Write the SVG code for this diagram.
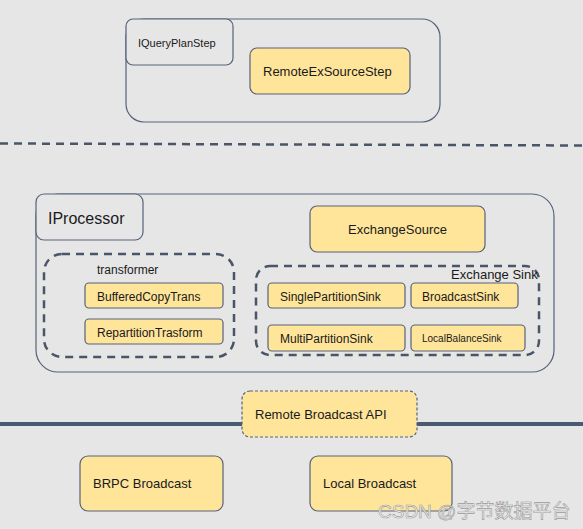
<svg xmlns="http://www.w3.org/2000/svg" width="583" height="529" viewBox="0 0 583 529">
<style>
.c{fill:none;stroke:#56627a;stroke-width:1.2}
.g{fill:#e6e6e6;stroke:#56627a;stroke-width:1.2}
.y{fill:#ffe599;stroke:#56627a;stroke-width:1.2}
.d{fill:none;stroke:#4a5568;stroke-width:2.5;stroke-dasharray:8 6}
.t{font-family:"Liberation Sans",Arial,sans-serif;fill:#1a1a1a}
.wm{font-family:"Liberation Sans","Noto Sans CJK SC",sans-serif;font-size:19px;fill:#f2f2f2;stroke:#9a9a9a;stroke-width:0.6}
</style>
<rect width="583" height="529" fill="#e6e6e6"/>
<g id="connectors">
<line x1="0" y1="143.5" x2="583" y2="145.5" class="d" stroke-dasharray="9 7"/>
<line x1="0" y1="424" x2="583" y2="424" stroke="#4a5a70" stroke-width="4"/>
</g>
<g id="queryplan">
<rect x="126" y="19" width="314" height="103" rx="18" class="c"/>
</g>
<g id="iqueryplanstep">
<rect x="126" y="19" width="107" height="46" rx="7" class="g"/>
<text x="138" y="47" class="t" font-size="11">IQueryPlanStep</text>
</g>
<g id="remoteexsourcestep">
<rect x="250" y="48" width="160" height="46" rx="7" class="y"/>
<text x="263" y="76" class="t" font-size="13">RemoteExSourceStep</text>
</g>
<g id="processor">
<rect x="36" y="194" width="518" height="178" rx="22" class="c"/>
</g>
<g id="iprocessor">
<rect x="36" y="194" width="107" height="46" rx="8" class="g"/>
<text x="48" y="224" class="t" font-size="16">IProcessor</text>
</g>
<g id="exchangesource">
<rect x="310" y="206" width="175" height="46" rx="7" class="y"/>
<text x="397.5" y="234" class="t" font-size="13" text-anchor="middle">ExchangeSource</text>
</g>
<g id="transformer">
<rect x="44" y="254" width="190" height="103" rx="18" class="d"/>
<text x="97" y="274" class="t" font-size="12">transformer</text>
</g>
<g id="bufferedcopytrans">
<rect x="85" y="283" width="138" height="25" rx="4" class="y"/>
<text x="97" y="301" class="t" font-size="12">BufferedCopyTrans</text>
</g>
<g id="repartitiontrasform">
<rect x="85" y="319" width="138" height="25" rx="4" class="y"/>
<text x="97" y="337" class="t" font-size="12">RepartitionTrasform</text>
</g>
<g id="exchangesink">
<rect x="256" y="266" width="283" height="89" rx="14" class="d"/>
<text x="451" y="279" class="t" font-size="13">Exchange Sink</text>
</g>
<g id="singlepartitionsink">
<rect x="268" y="283" width="137" height="25" rx="4" class="y"/>
<text x="280" y="301" class="t" font-size="12">SinglePartitionSink</text>
</g>
<g id="broadcastsink">
<rect x="411" y="283" width="107" height="25" rx="4" class="y"/>
<text x="422" y="301" class="t" font-size="12">BroadcastSink</text>
</g>
<g id="multipartitionsink">
<rect x="268" y="325" width="137" height="26" rx="4" class="y"/>
<text x="280" y="343" class="t" font-size="12">MultiPartitionSink</text>
</g>
<g id="localbalancesink">
<rect x="411" y="325" width="114" height="26" rx="4" class="y"/>
<text x="422" y="342" class="t" font-size="10">LocalBalanceSink</text>
</g>
<g id="remotebroadcastapi">
<rect x="242" y="391" width="175" height="46" rx="8" class="y" stroke-dasharray="3 2"/>
<text x="255" y="419" class="t" font-size="13">Remote Broadcast API</text>
</g>
<g id="brpcbroadcast">
<rect x="80" y="456" width="143" height="55" rx="8" class="y"/>
<text x="93" y="488" class="t" font-size="13">BRPC Broadcast</text>
</g>
<g id="localbroadcast">
<rect x="310" y="456" width="142" height="55" rx="8" class="y"/>
<text x="323" y="488" class="t" font-size="13">Local Broadcast</text>
</g>
<text x="378" y="518" class="wm">CSDN @字节数据平台</text>
</svg>
